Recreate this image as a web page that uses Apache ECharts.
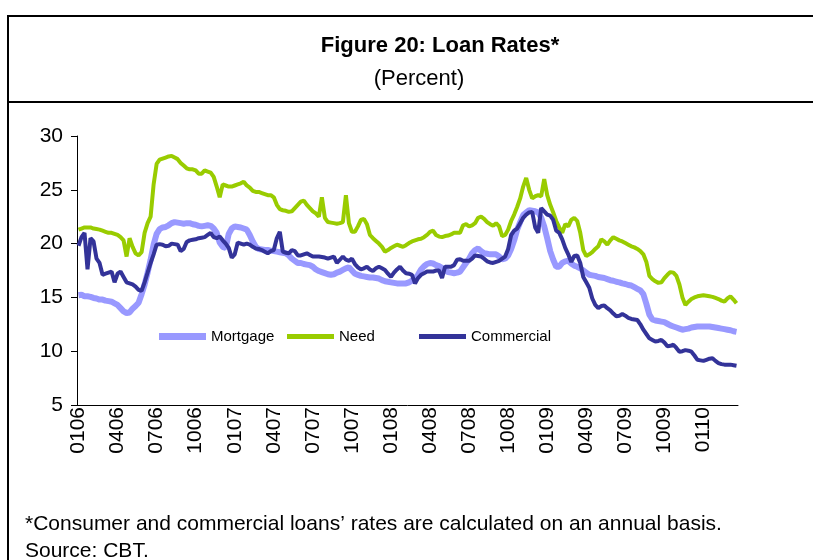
<!DOCTYPE html>
<html>
<head>
<meta charset="utf-8">
<script src="https://cdn.jsdelivr.net/npm/echarts@6/dist/echarts.min.js"></script>
<style>
html,body{margin:0;padding:0;background:#fff;}
#chart{width:813px;height:560px;}
</style>
</head>
<body>
<div id="chart"></div>
<script>
// Quarter tick labels (MMYY), one every 13 weekly observations
const tickLabels = ['0106','0406','0706','1006','0107','0407','0707','1007','0108','0408','0708','1008','0109','0409','0709','1009','0110'];

// Weekly loan rates (percent)
const mortgage = [
15.2,15.25,15.1,15.1,15.05,14.95,14.9,14.8,14.8,14.7,
14.65,14.6,14.45,14.3,14.0,13.7,13.55,13.6,13.95,14.2,
14.5,15.3,16.2,17.3,18.5,19.9,20.9,21.35,21.5,21.55,
21.7,21.9,22.0,21.95,21.9,21.85,21.9,21.9,21.8,21.75,
21.65,21.6,21.65,21.7,21.65,21.4,21.0,20.1,19.7,19.6,
20.9,21.4,21.6,21.55,21.5,21.4,21.3,20.8,20.2,19.7,
19.5,19.45,19.4,19.4,19.35,19.3,19.25,19.2,19.15,19.1,
18.9,18.6,18.4,18.2,18.2,18.1,18.05,18.0,17.85,17.6,
17.45,17.35,17.25,17.15,17.1,17.15,17.3,17.4,17.55,17.7,
17.8,17.5,17.2,17.1,17.0,16.95,16.9,16.85,16.85,16.8,
16.75,16.6,16.5,16.45,16.4,16.35,16.3,16.3,16.3,16.3,
16.4,16.55,16.75,17.1,17.6,17.9,18.1,18.2,18.15,18.0,
17.9,17.75,17.5,17.35,17.3,17.25,17.3,17.4,17.8,18.2,
18.6,19.1,19.4,19.55,19.3,19.1,19.05,19.0,19.0,19.0,
18.8,18.55,18.6,18.9,19.5,20.3,21.3,22.0,22.65,22.9,
23.1,23.05,23.0,22.9,22.4,21.6,20.5,19.3,18.5,17.85,
17.85,18.2,18.35,18.4,18.15,17.95,17.85,17.7,17.5,17.3,
17.1,17.05,17.0,16.9,16.85,16.8,16.7,16.6,16.55,16.45,
16.4,16.3,16.25,16.15,16.1,15.95,15.8,15.65,15.3,14.4,
13.4,12.95,12.85,12.8,12.75,12.7,12.55,12.4,12.3,12.2,
12.1,12.0,12.05,12.1,12.2,12.25,12.3,12.3,12.3,12.3,
12.3,12.25,12.2,12.15,12.1,12.05,12.0,11.95,11.85,11.8
];

const need = [
21.3,21.4,21.5,21.5,21.5,21.4,21.35,21.3,21.2,21.1,
21.0,21.0,20.9,20.8,20.6,20.3,18.8,20.5,19.7,19.1,
18.9,19.2,21.0,21.9,22.5,25.5,27.4,27.8,27.9,28.0,
28.1,28.15,28.0,27.85,27.5,27.25,27.0,26.9,26.9,26.8,
26.5,26.5,26.8,26.7,26.6,26.2,25.3,24.3,25.5,25.4,
25.3,25.3,25.4,25.5,25.6,25.75,25.4,25.2,24.9,24.8,
24.8,24.7,24.6,24.5,24.5,24.3,23.6,23.2,23.1,23.05,
22.95,23.0,23.3,23.6,23.9,24.0,23.6,23.3,23.0,22.8,
22.5,24.3,22.4,22.0,21.95,21.9,21.85,21.9,22.0,24.5,
21.9,21.1,21.1,21.6,22.2,22.3,21.8,20.8,20.5,20.25,
20.0,19.7,19.25,19.4,19.6,19.75,19.9,19.8,19.7,19.85,
20.05,20.2,20.3,20.4,20.45,20.6,20.8,21.1,21.2,20.8,
20.65,20.6,20.7,20.75,20.85,21.0,21.0,21.0,21.7,21.8,
21.6,21.7,21.9,22.4,22.5,22.3,22.0,21.8,21.65,21.9,
21.6,20.7,20.8,21.3,22.1,22.7,23.4,24.2,25.3,26.1,
25.0,24.2,24.4,24.5,24.4,26.0,24.5,23.6,22.9,22.1,
21.5,21.0,21.8,21.6,22.2,22.4,22.1,21.0,19.4,18.85,
19.0,19.2,19.5,19.75,20.4,20.2,19.9,20.3,20.6,20.45,
20.3,20.2,20.05,19.9,19.75,19.65,19.5,19.3,19.0,18.3,
17.0,16.7,16.5,16.35,16.4,16.8,17.1,17.35,17.3,17.0,
16.2,15.0,14.3,14.6,14.85,15.0,15.1,15.15,15.2,15.15,
15.1,15.05,14.95,14.85,14.7,14.6,14.9,15.1,14.8,14.45
];

const commercial = [
19.8,20.6,21.0,17.6,20.5,20.2,18.6,18.2,17.1,17.2,
17.3,17.4,16.4,17.2,17.4,16.9,16.4,16.3,16.2,16.0,
15.7,15.6,16.4,17.3,18.2,19.0,19.9,19.95,19.9,19.75,
19.8,20.0,19.95,19.9,19.3,19.5,20.15,20.3,20.35,20.4,
20.5,20.55,20.6,20.8,21.0,20.6,20.5,20.65,20.3,20.0,
19.6,18.7,19.0,20.1,20.0,19.9,20.0,19.9,19.7,19.55,
19.5,19.4,19.25,19.1,19.3,19.4,20.5,21.1,19.25,19.15,
19.1,19.4,19.3,18.9,18.9,19.0,19.1,18.95,18.8,18.8,
18.8,18.75,18.7,18.6,18.7,18.8,18.2,18.5,18.8,18.5,
18.4,18.6,18.1,17.8,17.6,17.7,17.85,17.6,17.45,17.7,
17.85,17.7,17.55,17.2,16.9,17.3,17.6,17.85,17.5,17.25,
17.2,17.1,16.3,16.8,17.1,17.25,17.4,17.4,17.4,17.5,
17.5,16.8,17.85,17.85,17.85,18.0,18.5,18.55,18.4,18.4,
18.4,18.6,18.9,18.85,18.8,18.6,18.35,18.25,18.2,18.3,
18.4,18.6,18.8,19.5,20.8,21.2,21.4,21.9,22.4,22.7,
22.9,22.95,21.5,21.0,23.3,23.0,22.7,22.6,22.2,21.2,
21.0,20.4,19.6,19.0,18.3,18.85,18.9,18.2,16.9,16.4,
15.9,14.9,14.3,14.0,14.2,14.25,14.0,13.8,13.5,13.25,
13.3,13.45,13.3,13.1,13.0,12.95,12.9,12.5,12.0,11.6,
11.2,11.05,10.9,10.95,11.05,10.8,10.45,10.5,10.6,10.3,
9.95,10.0,10.1,10.05,9.95,9.6,9.2,9.15,9.1,9.2,
9.3,9.35,9.1,8.9,8.8,8.75,8.75,8.75,8.7,8.65
];

const categories = mortgage.map((_, i) => (i % 13 === 0 && tickLabels[i / 13]) ? tickLabels[i / 13] : '');

const chart = echarts.init(document.getElementById('chart'), null, {renderer: 'canvas'});
const font = 'Liberation Sans, Arial, sans-serif';

function legendFor(name, left) {
  return {
    data: [name], left: left, top: 329, orient: 'horizontal', padding: 0,
    icon: 'rect', itemWidth: 47, itemHeight: name === 'Mortgage' ? 7 : 5, itemGap: 5,
    textStyle: {fontFamily: font, fontSize: 15, color: '#000'},
    selectedMode: false
  };
}

chart.setOption({
  animation: false,
  backgroundColor: '#ffffff',
  title: [
    {text: 'Figure 20: Loan Rates*', left: 440, top: 35, textAlign: 'center', padding: 0,
     textStyle: {fontFamily: font, fontSize: 22, fontWeight: 'bold', color: '#000'}},
    {text: '(Percent)', left: 419, top: 68, textAlign: 'center', padding: 0,
     textStyle: {fontFamily: font, fontSize: 22, fontWeight: 'normal', color: '#000'}},
    {text: '*Consumer and commercial loans\u2019 rates are calculated on an annual basis.', left: 25, top: 514, padding: 0,
     textStyle: {fontFamily: font, fontSize: 21, fontWeight: 'normal', color: '#000'}},
    {text: 'Source: CBT.', left: 25, top: 541, padding: 0,
     textStyle: {fontFamily: font, fontSize: 21, fontWeight: 'normal', color: '#000'}}
  ],
  legend: [legendFor('Mortgage', 159), legendFor('Need', 287), legendFor('Commercial', 419)],
  grid: {left: 77, right: 75, top: 136, bottom: 155, containLabel: false},
  xAxis: {
    type: 'category', data: categories, boundaryGap: true,
    axisLine: {lineStyle: {color: '#000', width: 1}},
    axisTick: {show: false},
    axisLabel: {interval: 12, rotate: 90, margin: 2, fontFamily: font, fontSize: 21, color: '#000'},
    splitLine: {show: false}
  },
  yAxis: {
    type: 'value', min: 5, max: 30, interval: 5,
    axisLine: {show: true, lineStyle: {color: '#000', width: 1}},
    axisTick: {show: true, inside: false, length: 6, lineStyle: {color: '#000'}},
    axisLabel: {margin: 14, fontFamily: font, fontSize: 21, color: '#000'},
    splitLine: {show: false}
  },
  series: [
    {name: 'Mortgage', type: 'line', data: mortgage, showSymbol: false, symbol: 'none',
     lineStyle: {color: '#9999FF', width: 6}, itemStyle: {color: '#9999FF'}},
    {name: 'Need', type: 'line', data: need, showSymbol: false, symbol: 'none',
     lineStyle: {color: '#99CC00', width: 4}, itemStyle: {color: '#99CC00'}},
    {name: 'Commercial', type: 'line', data: commercial, showSymbol: false, symbol: 'none',
     lineStyle: {color: '#333399', width: 4}, itemStyle: {color: '#333399'}}
  ],
  graphic: [
    {type: 'line', shape: {x1: 8, y1: 16, x2: 813, y2: 16}, style: {stroke: '#000', lineWidth: 2}},
    {type: 'line', shape: {x1: 8, y1: 102, x2: 813, y2: 102}, style: {stroke: '#000', lineWidth: 2}},
    {type: 'line', shape: {x1: 8, y1: 15, x2: 8, y2: 560}, style: {stroke: '#000', lineWidth: 2}}
  ]
});
</script>
</body>
</html>
